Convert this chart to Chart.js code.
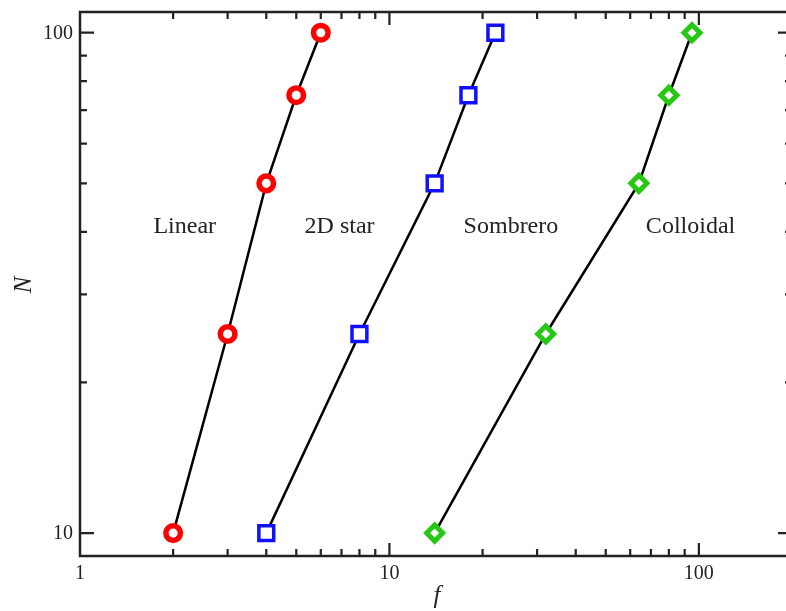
<!DOCTYPE html>
<html>
<head>
<meta charset="utf-8">
<script src="https://cdn.jsdelivr.net/npm/chart.js@4"></script>
<style>
  html, body { margin: 0; padding: 0; background: #fff; overflow: hidden; }
  #wrap { width: 786px; height: 611px; overflow: hidden; position: relative; }
  #scalingChart { display: block; position: absolute; left: 0; top: 0; }
</style>
</head>
<body>
<div id="wrap"><canvas id="scalingChart" width="800" height="611"></canvas></div>
<script>
// chain length N against functionality f, one series per architecture
const sizes = [10, 25, 50, 75, 100];
const linearF = [2, 3, 4, 5, 6];
const starF = [4, 8, 14, 18, 22];
const colloidF = [14, 32, 64, 80, 95];

// tick positions (log axes, mirrored on all four sides)
const xMajor = [1, 10, 100];
const xMinor = [2, 3, 4, 5, 6, 7, 8, 9, 20, 30, 40, 50, 60, 70, 80, 90];
const yMajor = [10, 100];
const yMinor = [20, 30, 40, 50, 60, 70, 80, 90];

// region names written across the plot
const regionNames = ["Linear", "2D star", "Sombrero", "Colloidal"];
const regionF = [2.18, 6.9, 24.7, 94];
const regionN = 41;

const ink = "#222";
const serif = "'Liberation Serif', 'DejaVu Serif', serif";

function toPoints(fs) {
  return fs.map((f, i) => ({ x: f, y: sizes[i] }));
}

function series(fs, color, style, radius, width) {
  return {
    data: toPoints(fs),
    borderColor: "#000",
    borderWidth: 2.5,
    pointStyle: style,
    pointRadius: radius,
    pointBorderColor: color,
    pointBackgroundColor: "#fff",
    pointBorderWidth: width,
    tension: 0,
    clip: false
  };
}

// frame, inward ticks, tick labels, axis titles and region names
const axesPlugin = {
  id: "frameAxes",
  afterDraw(chart) {
    const { ctx, chartArea: a } = chart;
    const xs = chart.scales.x;
    const ys = chart.scales.y;

    ctx.save();
    ctx.strokeStyle = ink;
    ctx.lineWidth = 2.5;
    ctx.strokeRect(a.left, a.top, a.right - a.left, a.bottom - a.top);

    function xTick(v, len) {
      const px = xs.getPixelForValue(v);
      if (px <= a.left + 1 || px >= a.right - 1) return;
      ctx.beginPath();
      ctx.moveTo(px, a.bottom); ctx.lineTo(px, a.bottom - len);
      ctx.moveTo(px, a.top); ctx.lineTo(px, a.top + len);
      ctx.stroke();
    }
    function yTick(v, len) {
      const py = ys.getPixelForValue(v);
      if (py <= a.top + 1 || py >= a.bottom - 1) return;
      ctx.beginPath();
      ctx.moveTo(a.left, py); ctx.lineTo(a.left + len, py);
      ctx.moveTo(a.right, py); ctx.lineTo(a.right - len, py);
      ctx.stroke();
    }
    ctx.lineWidth = 2.2;
    xMinor.forEach(v => xTick(v, 7));
    xMajor.forEach(v => xTick(v, 13));
    yMinor.forEach(v => yTick(v, 7));
    yMajor.forEach(v => yTick(v, 14));

    ctx.fillStyle = ink;
    ctx.font = "20px " + serif;
    ctx.textBaseline = "middle";
    ctx.textAlign = "center";
    xMajor.forEach(v => ctx.fillText(String(v), xs.getPixelForValue(v), a.bottom + 18));
    ctx.textAlign = "right";
    yMajor.forEach(v => ctx.fillText(String(v), a.left - 7, ys.getPixelForValue(v) + 1));

    ctx.font = "italic 25px " + serif;
    ctx.textAlign = "center";
    ctx.fillText("f", 437, 596);
    ctx.save();
    ctx.translate(24, 285);
    ctx.rotate(-Math.PI / 2);
    ctx.fillText("N", 0, 0);
    ctx.restore();

    ctx.font = "24px " + serif;
    regionNames.forEach((name, i) => {
      ctx.fillText(name, xs.getPixelForValue(regionF[i]), ys.getPixelForValue(regionN));
    });
    ctx.restore();
  }
};

new Chart(document.getElementById("scalingChart"), {
  type: "line",
  data: {
    datasets: [
      series(linearF, "#ff0000", "circle", 7.3, 5.5),
      series(starF, "#1010ff", "rect", 10.5, 3.5),
      series(colloidF, "#26c814", "rectRot", 8, 5)
    ]
  },
  options: {
    responsive: false,
    animation: false,
    // the canvas is a little wider than the page, so the right edge of the frame is cut off
    layout: { autoPadding: false, padding: { left: 80, top: 12, right: 8, bottom: 55 } },
    plugins: { legend: { display: false }, tooltip: { enabled: false } },
    scales: {
      x: { type: "logarithmic", min: 1, max: 200, display: false },
      y: { type: "logarithmic", min: 9, max: 110, display: false }
    }
  },
  plugins: [axesPlugin]
});
</script>
</body>
</html>
